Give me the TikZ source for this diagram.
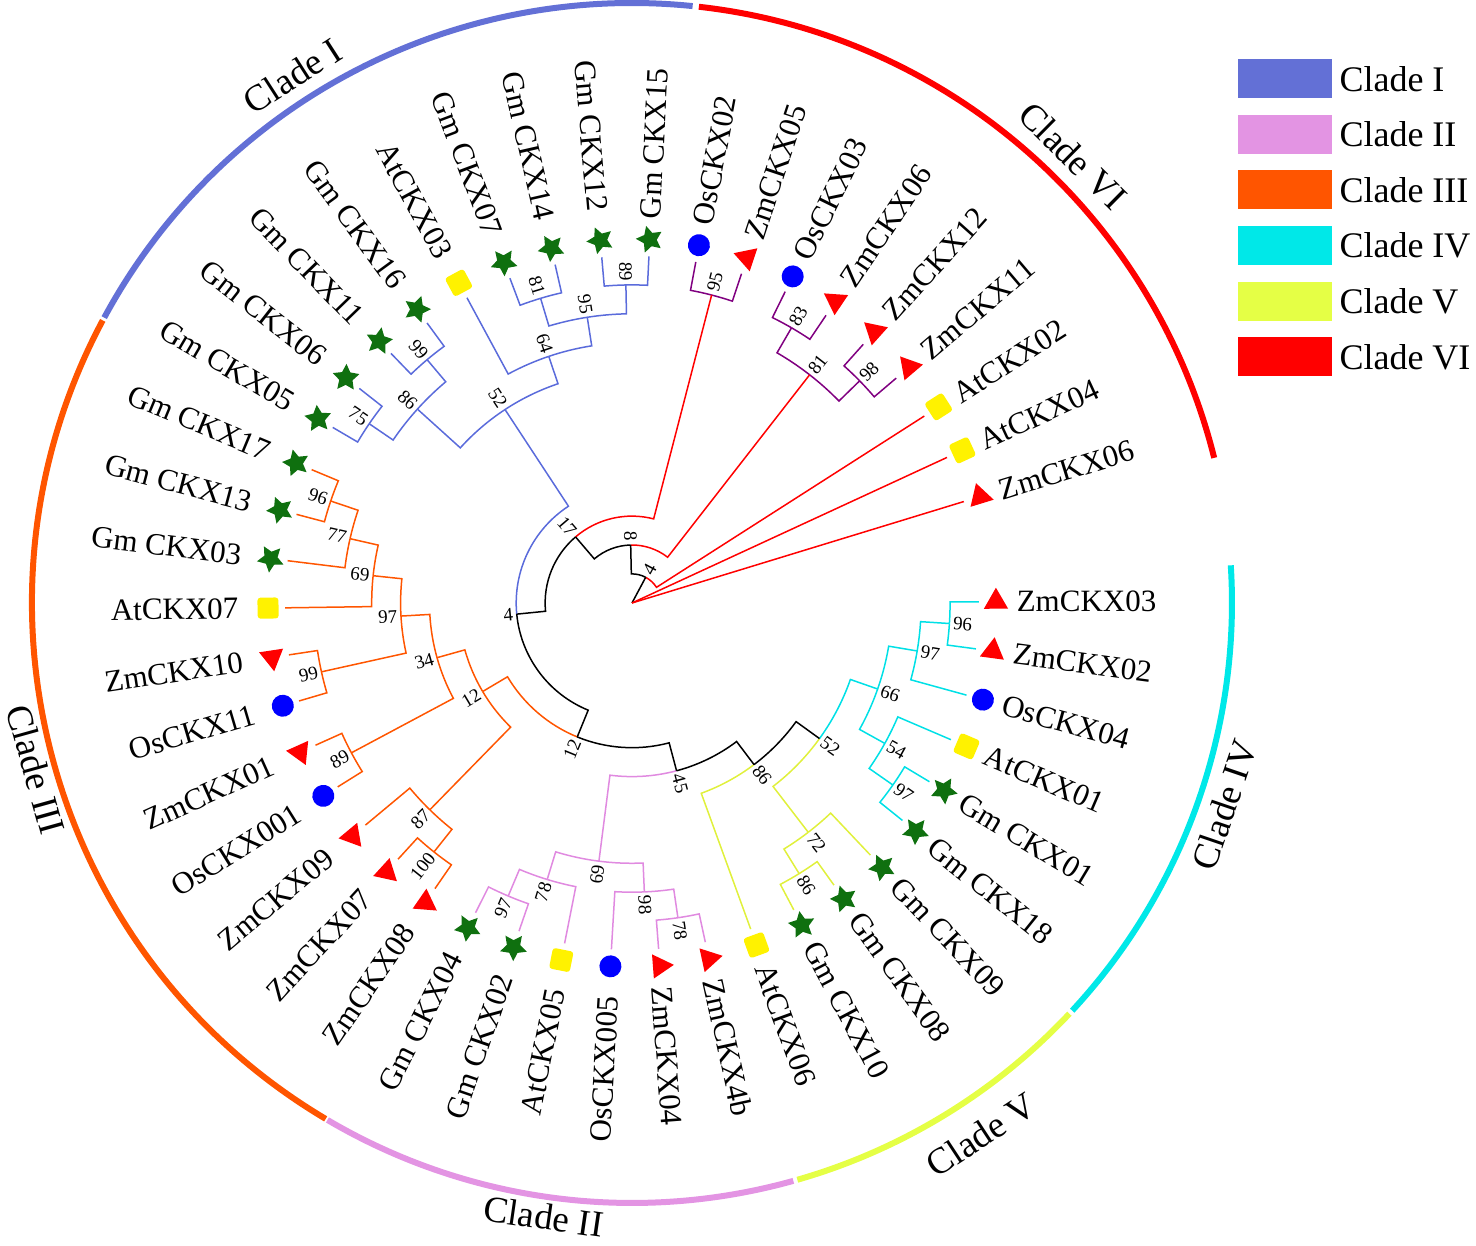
\documentclass[tikz,border=0pt]{standalone}
\usepackage{fontspec}
\setmainfont{Liberation Serif}
\usetikzlibrary{calc,positioning,shapes.geometric}

\definecolor{cI}{HTML}{5A6BDB}
\definecolor{cII}{HTML}{E08AE0}
\definecolor{cIII}{HTML}{FF5500}
\definecolor{cIV}{HTML}{00E0E6}
\definecolor{cV}{HTML}{E0F03C}
\definecolor{cVI}{HTML}{FF0000}
\definecolor{cVIb}{HTML}{800080}
\definecolor{starg}{HTML}{0F700F}
\definecolor{legI}{HTML}{6370D6}
\definecolor{legII}{HTML}{E394E3}
\definecolor{legIII}{HTML}{FF5500}
\definecolor{legIV}{HTML}{00E8E8}
\definecolor{legV}{HTML}{E5FF45}
\definecolor{legVI}{HTML}{FF0000}

\tikzset{
    circ/.style={circle, fill=blue, minimum size=22pt, inner sep=0pt},
    sq/.style={rectangle, rounded corners=3pt, fill=yellow, minimum size=21pt, inner sep=0pt},
    tri/.style={regular polygon, regular polygon sides=3, fill=red, minimum size=28pt, inner sep=0pt},
    star5/.style={star, star points=5, star point ratio=2.0, fill=starg, minimum size=28pt, inner sep=0pt},
    lblR/.style={anchor=west, rotate=#1, inner sep=0pt, font=\fontsize{31}{36}\selectfont},
    lblL/.style={anchor=east, rotate=#1+180, inner sep=0pt, font=\fontsize{31}{36}\selectfont},
    bsR/.style={anchor=west, rotate=#1, inner sep=0pt, font=\fontsize{19}{21}\selectfont},
    bsL/.style={anchor=east, rotate=#1+180, inner sep=0pt, font=\fontsize{19}{21}\selectfont},
    cladelbl/.style={inner sep=0pt, font=\fontsize{37}{40}\selectfont},
    legbox/.style={rectangle, minimum width=94pt, minimum height=39pt, inner sep=0pt},
    legtxt/.style={inner sep=0pt, anchor=west, font=\fontsize{36}{40}\selectfont}
}

% leaf: name, angle, marker, side, text
\newcommand{\leafnode}[5]{%
    \coordinate (#1) at (#2:347);
    \node[#3, rotate=#2] (m#1) at (#2:364) {};
    \node[lbl#4=#2] (t#1) at (#2:\csname rad#4\endcsname) {#5};}
\newcommand{\radR}{384}
\newcommand{\radL}{393}
% inner node: name, angle, radius, support, side
\newcommand{\innode}[5]{%
    \coordinate (#1) at (#2:#3);
    \node[bs#5=#2] (b#1) at ($(#1)+(#2:3)$) {#4};}
% arc of the parent, then radial line to the child
\newcommand{\branch}[3][black]{%
    \draw[#1] let \p1=(#2), \p2=(#3), \n1={atan2(\y1,\x1)}, \n2={atan2(\y2,\x2)},
        \n3={veclen(\x1,\y1)}, \n4={\n2-360*round((\n2-\n1)/360)}
        in (#2) arc[start angle=\n1, end angle=\n4, radius=\n3] -- (#3);}

\begin{document}
\begin{tikzpicture}[x=1pt, y=1pt, line width=1.5pt]
    \useasboundingbox (-632,-643) rectangle (844,603);
    \coordinate (root) at (0,0);

    % leaves
    \leafnode{ZmCKX03}{360.2}{tri}{R}{ZmCKX03}
    \leafnode{ZmCKX02}{352.4}{tri}{R}{ZmCKX02}
    \leafnode{OsCKX04}{344.6}{circ}{R}{OsCKX04}
    \leafnode{AtCKX01}{336.8}{sq}{R}{AtCKX01}
    \leafnode{GmCKX01}{329.0}{star5}{R}{Gm CKX01}
    \leafnode{GmCKX18}{321.2}{star5}{R}{Gm CKX18}
    \leafnode{GmCKX09}{313.4}{star5}{R}{Gm CKX09}
    \leafnode{GmCKX08}{305.6}{star5}{R}{Gm CKX08}
    \leafnode{GmCKX10}{297.8}{star5}{R}{Gm CKX10}
    \leafnode{AtCKX06}{290.0}{sq}{R}{AtCKX06}
    \leafnode{ZmCKX4b}{282.2}{tri}{R}{ZmCKX4b}
    \leafnode{ZmCKX04}{274.4}{tri}{R}{ZmCKX04}
    \leafnode{OsCKX005}{266.6}{circ}{L}{OsCKX005}
    \leafnode{AtCKX05}{258.8}{sq}{L}{AtCKX05}
    \leafnode{GmCKX02}{251.0}{star5}{L}{Gm CKX02}
    \leafnode{GmCKX04}{243.2}{star5}{L}{Gm CKX04}
    \leafnode{ZmCKX08}{235.4}{tri}{L}{ZmCKX08}
    \leafnode{ZmCKX07}{227.6}{tri}{L}{ZmCKX07}
    \leafnode{ZmCKX09}{219.8}{tri}{L}{ZmCKX09}
    \leafnode{OsCKX001}{212.0}{circ}{L}{OsCKX001}
    \leafnode{ZmCKX01}{204.2}{tri}{L}{ZmCKX01}
    \leafnode{OsCKX11}{196.4}{circ}{L}{OsCKX11}
    \leafnode{ZmCKX10}{188.6}{tri}{L}{ZmCKX10}
    \leafnode{AtCKX07}{180.8}{sq}{L}{AtCKX07}
    \leafnode{GmCKX03}{173.0}{star5}{L}{Gm CKX03}
    \leafnode{GmCKX13}{165.2}{star5}{L}{Gm CKX13}
    \leafnode{GmCKX17}{157.4}{star5}{L}{Gm CKX17}
    \leafnode{GmCKX05}{149.6}{star5}{L}{Gm CKX05}
    \leafnode{GmCKX06}{141.8}{star5}{L}{Gm CKX06}
    \leafnode{GmCKX11}{134.0}{star5}{L}{Gm CKX11}
    \leafnode{GmCKX16}{126.2}{star5}{L}{Gm CKX16}
    \leafnode{AtCKX03}{118.4}{sq}{L}{AtCKX03}
    \leafnode{GmCKX07}{110.6}{star5}{L}{Gm CKX07}
    \leafnode{GmCKX14}{102.8}{star5}{L}{Gm CKX14}
    \leafnode{GmCKX12}{95.0}{star5}{L}{Gm CKX12}
    \leafnode{GmCKX15}{87.2}{star5}{R}{Gm CKX15}
    \leafnode{OsCKX02}{79.4}{circ}{R}{OsCKX02}
    \leafnode{ZmCKX05}{71.6}{tri}{R}{ZmCKX05}
    \leafnode{OsCKX03}{63.8}{circ}{R}{OsCKX03}
    \leafnode{ZmCKX06a}{56.0}{tri}{R}{ZmCKX06}
    \leafnode{ZmCKX12}{48.2}{tri}{R}{ZmCKX12}
    \leafnode{ZmCKX11}{40.4}{tri}{R}{ZmCKX11}
    \leafnode{AtCKX02}{32.6}{sq}{R}{AtCKX02}
    \leafnode{AtCKX04}{24.8}{sq}{R}{AtCKX04}
    \leafnode{ZmCKX06b}{17.0}{tri}{R}{ZmCKX06}

    % inner nodes
    \innode{n96c}{356.3}{318.1}{96}{R}
    \innode{n97c}{350.45}{289.2}{97}{R}
    \innode{n97d}{325.1}{318.1}{97}{R}
    \innode{n54}{330.95}{289.2}{54}{R}
    \innode{n66}{340.7}{260.3}{66}{R}
    \innode{n86v}{301.7}{318.1}{86}{R}
    \innode{n72}{307.55}{289.2}{72}{R}
    \innode{n52b}{324.13}{231.4}{52}{R}
    \innode{n86}{307.06}{202.5}{86}{R}
    \innode{n78b}{278.3}{318.1}{78}{R}
    \innode{n98p}{272.45}{289.2}{98}{R}
    \innode{n97p}{247.1}{318.1}{97}{L}
    \innode{n78a}{252.95}{289.2}{78}{L}
    \innode{n69p}{262.7}{260.3}{69}{L}
    \innode{n45}{284.88}{173.6}{45}{R}
    \innode{n100}{231.5}{318.1}{100}{L}
    \innode{n87}{225.65}{289.2}{87}{L}
    \innode{n89c}{208.1}{318.1}{89}{L}
    \innode{n99c}{192.5}{318.1}{99}{L}
    \innode{n96}{161.3}{318.1}{96}{L}
    \innode{n77}{167.15}{289.2}{77}{L}
    \innode{n69}{173.98}{260.3}{69}{L}
    \innode{n97}{183.24}{231.4}{97}{L}
    \innode{n34}{195.67}{202.5}{34}{L}
    \innode{n12c}{210.66}{173.6}{12}{L}
    \innode{n12}{247.77}{144.7}{12}{L}
    \innode{n75}{145.7}{318.1}{75}{L}
    \innode{n99a}{130.1}{318.1}{99}{L}
    \innode{n86a}{137.9}{289.2}{86}{L}
    \innode{n81a}{106.7}{318.1}{81}{L}
    \innode{n89a}{91.1}{318.1}{89}{L}
    \innode{n95a}{98.9}{289.2}{95}{L}
    \innode{n64}{108.65}{260.3}{64}{L}
    \innode{n52}{123.28}{231.4}{52}{L}
    \innode{n4b}{185.52}{115.8}{4}{L}
    \innode{n95v}{75.5}{318.1}{95}{R}
    \innode{n83}{59.9}{318.1}{83}{R}
    \innode{n98v}{44.3}{318.1}{98}{R}
    \innode{n81}{52.1}{289.2}{81}{R}
    \innode{n17}{130.51}{86.9}{17}{L}
    \innode{n8}{91.3}{58.0}{8}{L}
    \innode{n4}{61.95}{29.1}{4}{R}

    % Clade IV
    \branch[cIV]{n96c}{ZmCKX03} \branch[cIV]{n96c}{ZmCKX02}
    \branch[cIV]{n97c}{n96c} \branch[cIV]{n97c}{OsCKX04}
    \branch[cIV]{n97d}{GmCKX01} \branch[cIV]{n97d}{GmCKX18}
    \branch[cIV]{n54}{AtCKX01} \branch[cIV]{n54}{n97d}
    \branch[cIV]{n66}{n97c} \branch[cIV]{n66}{n54}
    % Clade V
    \branch[cV]{n86v}{GmCKX10} \branch[cV]{n86v}{GmCKX08}
    \branch[cV]{n72}{n86v} \branch[cV]{n72}{GmCKX09}
    \branch[cV]{n52b}{n72} \branch[cIV]{n52b}{n66}
    \branch[cV]{n86}{AtCKX06} \branch{n86}{n52b}
    % Clade II
    \branch[cII]{n78b}{ZmCKX04} \branch[cII]{n78b}{ZmCKX4b}
    \branch[cII]{n98p}{OsCKX005} \branch[cII]{n98p}{n78b}
    \branch[cII]{n97p}{GmCKX04} \branch[cII]{n97p}{GmCKX02}
    \branch[cII]{n78a}{n97p} \branch[cII]{n78a}{AtCKX05}
    \branch[cII]{n69p}{n78a} \branch[cII]{n69p}{n98p}
    \branch[cII]{n45}{n69p} \branch{n45}{n86}
    % Clade III
    \branch[cIII]{n100}{ZmCKX07} \branch[cIII]{n100}{ZmCKX08}
    \branch[cIII]{n87}{ZmCKX09} \branch[cIII]{n87}{n100}
    \branch[cIII]{n89c}{ZmCKX01} \branch[cIII]{n89c}{OsCKX001}
    \branch[cIII]{n99c}{ZmCKX10} \branch[cIII]{n99c}{OsCKX11}
    \branch[cIII]{n96}{GmCKX17} \branch[cIII]{n96}{GmCKX13}
    \branch[cIII]{n77}{n96} \branch[cIII]{n77}{GmCKX03}
    \branch[cIII]{n69}{n77} \branch[cIII]{n69}{AtCKX07}
    \branch[cIII]{n97}{n69} \branch[cIII]{n97}{n99c}
    \branch[cIII]{n34}{n97} \branch[cIII]{n34}{n89c}
    \branch[cIII]{n12c}{n34} \branch[cIII]{n12c}{n87}
    \branch[cIII]{n12}{n12c} \branch{n12}{n45}
    % Clade I
    \branch[cI]{n75}{GmCKX05} \branch[cI]{n75}{GmCKX06}
    \branch[cI]{n99a}{GmCKX11} \branch[cI]{n99a}{GmCKX16}
    \branch[cI]{n86a}{n75} \branch[cI]{n86a}{n99a}
    \branch[cI]{n81a}{GmCKX07} \branch[cI]{n81a}{GmCKX14}
    \branch[cI]{n89a}{GmCKX12} \branch[cI]{n89a}{GmCKX15}
    \branch[cI]{n95a}{n81a} \branch[cI]{n95a}{n89a}
    \branch[cI]{n64}{AtCKX03} \branch[cI]{n64}{n95a}
    \branch[cI]{n52}{n86a} \branch[cI]{n52}{n64}
    \branch[cI]{n4b}{n52} \branch{n4b}{n12}
    % Clade VI
    \branch[cVIb]{n95v}{OsCKX02} \branch[cVIb]{n95v}{ZmCKX05}
    \branch[cVIb]{n83}{OsCKX03} \branch[cVIb]{n83}{ZmCKX06a}
    \branch[cVIb]{n98v}{ZmCKX12} \branch[cVIb]{n98v}{ZmCKX11}
    \branch[cVIb]{n81}{n83} \branch[cVIb]{n81}{n98v}
    \branch[cVI]{n17}{n95v} \branch{n17}{n4b}
    \branch[cVI]{n8}{n81} \branch{n8}{n17}
    \branch[cVI]{n4}{AtCKX02} \branch{n4}{n8}
    \draw (root) -- (n4);
    \draw[cVI] (root) -- (AtCKX04);
    \draw[cVI] (root) -- (ZmCKX06b);

    % clade rings
    \draw[legI, line width=6pt] (84.2:600) arc[start angle=84.2, end angle=151.6, radius=600];
    \draw[legVI, line width=6pt] (14.0:600) arc[start angle=14.0, end angle=83.6, radius=600];
    \draw[legIV, line width=6pt] (-42.8:600) arc[start angle=-42.8, end angle=3.6, radius=600];
    \draw[legV, line width=6pt] (-74.0:600) arc[start angle=-74.0, end angle=-43.2, radius=600];
    \draw[legII, line width=6pt] (-120.5:600) arc[start angle=-120.5, end angle=-74.4, radius=600];
    \draw[legIII, line width=6pt] (151.9:600) arc[start angle=151.9, end angle=239.3, radius=600];

    \node[cladelbl, rotate=32.8] (lI) at (122.8:627) {Clade I};
    \node[cladelbl, rotate=-44.6] (lVI) at (45.4:628) {Clade VI};
    \node[cladelbl, rotate=71.2] (lIV) at (-18.8:626) {Clade IV};
    \node[cladelbl, rotate=33.3] (lV) at (-56.7:636) {Clade V};
    \node[cladelbl, rotate=-8.2] (lII) at (-98.2:620) {Clade II};
    \node[cladelbl, rotate=285.6] (lIII) at (195.6:619) {Clade III};

    % legend
    \node[legbox, fill=legI] (kI) at (653,524.2) {};
    \node[legbox, fill=legII, below=15.1pt of kI] (kII) {};
    \node[legbox, fill=legIII, below=15.1pt of kII] (kIII) {};
    \node[legbox, fill=legIV, below=15.1pt of kIII] (kIV) {};
    \node[legbox, fill=legV, below=15.1pt of kIV] (kV) {};
    \node[legbox, fill=legVI, below=15.1pt of kV] (kVI) {};
    \node[legtxt, right=6pt of kI] (tI) {Clade I};
    \node[legtxt, right=6pt of kII] (tII) {Clade II};
    \node[legtxt, right=6pt of kIII] (tIII) {Clade III};
    \node[legtxt, right=6pt of kIV] (tIV) {Clade IV};
    \node[legtxt, right=6pt of kV] (tV) {Clade V};
    \node[legtxt, right=6pt of kVI] (tVI) {Clade VI};
\end{tikzpicture}
\end{document}
